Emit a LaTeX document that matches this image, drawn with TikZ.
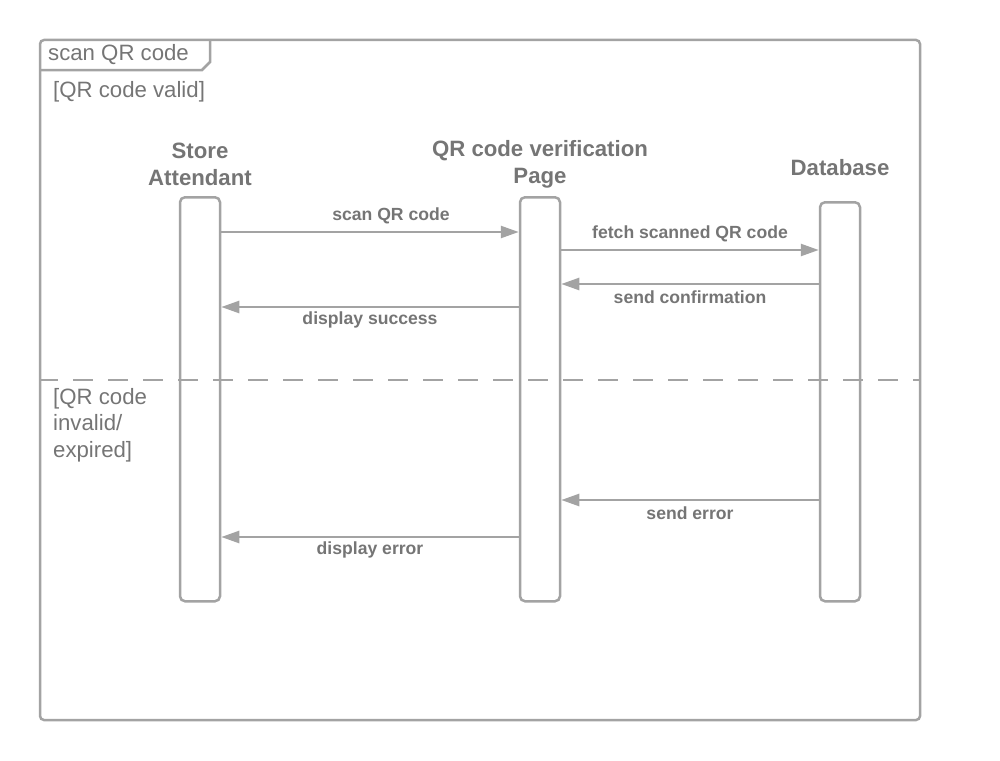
\documentclass[tikz,border=0pt]{standalone}
\usepackage{fontspec}
\setmainfont{Liberation Sans}
\usetikzlibrary{arrows.meta}
\definecolor{lc}{HTML}{A3A3A3}
\definecolor{tc}{HTML}{757575}
\begin{document}
\begin{tikzpicture}[x=1pt,y=-1pt,
  lifebox/.style={draw=lc,line width=2.5pt,rounded corners=5pt},
  hdr/.style={text=tc,font=\fontsize{22.2}{27}\selectfont\bfseries,align=center},
  lbl/.style={text=tc,font=\fontsize{17.6}{20}\selectfont\bfseries,inner sep=0pt},
  guard/.style={text=tc,font=\fontsize{22.2}{26.5}\selectfont,align=left,anchor=north west,inner sep=0pt},
  msg/.style={draw=lc,line width=2.5pt,-{Triangle[length=18pt,width=12pt]}}]
\useasboundingbox (0,0) rectangle (1000,760);
% frame
\draw[lc,line width=2.5pt,rounded corners=4pt] (40,40) rectangle (920,720);
\draw[lc,line width=2.5pt] (40,70) -- (202,70) -- (210,62) -- (210,40);
\node[text=tc,font=\fontsize{22.2}{26}\selectfont,anchor=base west,inner sep=0pt] (title) at (48,60) {scan QR code};
\node[guard] (g1) at (53,81) {[QR code valid]};
% headers
\node[hdr] (hsa) at (200,164) {Store\\Attendant};
\node[hdr] (hqr) at (540,164) {QR code verification\\Page};
\node[hdr] (hdb) at (840,168) {Database};
% lifelines
\node[lifebox,minimum width=40pt,minimum height=404pt,anchor=north,inner sep=0pt] (sa) at (200,196) {};
\node[lifebox,minimum width=40pt,minimum height=404pt,anchor=north,inner sep=0pt] (qr) at (540,196) {};
\node[lifebox,minimum width=40pt,minimum height=399pt,anchor=north,inner sep=0pt] (db) at (840,201) {};
% messages
\coordinate (m1a) at (sa.east |- 0,232);
\coordinate (m1b) at (qr.west |- 0,232);
\draw[msg] (m1a) -- (m1b);
\node[lbl] (l1) at (391,216) {scan QR code};
\coordinate (m2a) at (qr.east |- 0,250);
\coordinate (m2b) at (db.west |- 0,250);
\draw[msg] (m2a) -- (m2b);
\node[lbl] (l2) at (690,234) {fetch scanned QR code};
\coordinate (m3a) at (db.west |- 0,284);
\coordinate (m3b) at (qr.east |- 0,284);
\draw[msg] (m3a) -- (m3b);
\node[lbl] (l3) at (690,297) {send confirmation};
\coordinate (m4a) at (qr.west |- 0,307);
\coordinate (m4b) at (sa.east |- 0,307);
\draw[msg] (m4a) -- (m4b);
\node[lbl] (l4) at (370,320) {display success};
% separator
\coordinate (s1) at (40,380);
\coordinate (s2) at (920,380);
\draw[lc,line width=2.5pt,dash pattern=on 20pt off 15pt,dash phase=2pt] (s1) -- (s2);
\node[guard] (g2) at (53,388) {[QR code\\invalid/\\expired]};
\coordinate (m5a) at (db.west |- 0,500);
\coordinate (m5b) at (qr.east |- 0,500);
\draw[msg] (m5a) -- (m5b);
\node[lbl] (l5) at (690,513) {send error};
\coordinate (m6a) at (qr.west |- 0,537);
\coordinate (m6b) at (sa.east |- 0,537);
\draw[msg] (m6a) -- (m6b);
\node[lbl] (l6) at (370,550) {display error};
\end{tikzpicture}
\end{document}
